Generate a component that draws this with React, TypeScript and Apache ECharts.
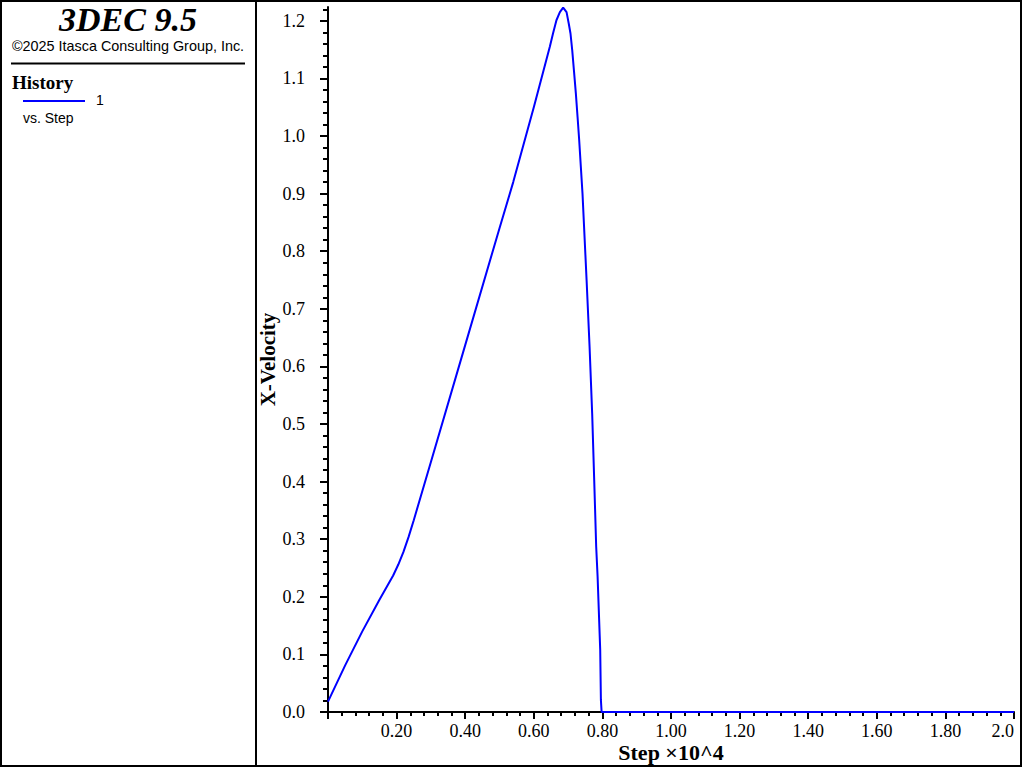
import React, { useEffect, useRef } from 'react';
import * as echarts from 'echarts';

// History 1: X-Velocity vs. Step (step in units of 10^4)
const stepX: number[] = [
  0, 0.05, 0.10, 0.15, 0.19, 0.205, 0.22, 0.235, 0.25, 0.30, 0.40, 0.50, 0.54, 0.60,
  0.6467, 0.656, 0.666, 0.676, 0.6856, 0.6955, 0.702, 0.707, 0.712, 0.717, 0.7226, 0.7276,
  0.7323, 0.7372, 0.742, 0.7539, 0.7626, 0.7702, 0.7761, 0.7819, 0.786, 0.7936, 0.7956, 0.7977, 2.0,
];
const velocity: number[] = [
  0.018, 0.081, 0.14, 0.195, 0.237, 0.256, 0.278, 0.304, 0.333, 0.434, 0.637, 0.84, 0.92, 1.05,
  1.155, 1.178, 1.201, 1.215, 1.223, 1.215, 1.195, 1.178, 1.149, 1.114, 1.074, 1.033,
  0.993, 0.946, 0.9, 0.75, 0.634, 0.518, 0.403, 0.287, 0.235, 0.108, 0.021, 0.0, 0.0,
];

const yMajorTicks: number[] = [0, 0.1, 0.2, 0.3, 0.4, 0.5, 0.6, 0.7, 0.8, 0.9, 1.0, 1.1, 1.2];
const yMinorStep = 0.02;
const yMinorTicks: number[] = Array.from({ length: 62 }, (_, i) => Math.round(i * yMinorStep * 1000) / 1000);

const Y_MAX = 1.224;
const SERIF = '"Liberation Serif", "Times New Roman", serif';
const SANS = '"Liberation Sans", Arial, sans-serif';

export default function App() {
  const ref = useRef<HTMLDivElement>(null);

  useEffect(() => {
    if (!ref.current) return;
    const chart = echarts.init(ref.current, undefined, { renderer: 'svg' });
    const data = stepX.map((x, i) => [x, velocity[i]]);

    chart.setOption({
      animation: false,
      backgroundColor: '#ffffff',
      grid: { left: 328, right: 10, top: 7, bottom: 56, containLabel: false, outerBoundsMode: 'none' },
      xAxis: {
        type: 'value',
        min: 0,
        max: 2,
        interval: 0.2,
        axisLine: { show: true, onZero: false, lineStyle: { color: '#000', width: 2 } },
        axisTick: { show: true, length: 7, lineStyle: { color: '#000', width: 2 } },
        minorTick: { show: true, splitNumber: 5, length: 4, lineStyle: { color: '#000', width: 2 } },
        splitLine: { show: false },
        minorSplitLine: { show: false },
        axisLabel: {
          margin: 10,
          color: '#000',
          fontFamily: SERIF,
          fontSize: 18,
          showMinLabel: true,
          showMaxLabel: true,
          hideOverlap: false,
          alignMaxLabel: 'right',
          formatter: (v: number) => (v === 0 ? '' : v >= 2 ? v.toFixed(1) : v.toFixed(2)),
        },
        name: 'Step \u00d710^4',
        nameLocation: 'middle',
        nameGap: 29,
        nameMoveOverlap: false,
        nameTextStyle: { color: '#000', fontFamily: SERIF, fontSize: 22, fontWeight: 'bold' },
      },
      yAxis: [
        {
          type: 'value',
          position: 'left',
          min: 0,
          max: Y_MAX,
          axisLine: { show: true, onZero: false, lineStyle: { color: '#000', width: 2 } },
          axisTick: { show: true, length: 8, customValues: yMajorTicks, lineStyle: { color: '#000', width: 2 } },
          splitLine: { show: false },
          axisLabel: {
            margin: 23,
            color: '#000',
            fontFamily: SERIF,
            fontSize: 18,
            customValues: yMajorTicks,
            formatter: (v: number) => v.toFixed(1),
          },
          name: 'X-Velocity',
          nameLocation: 'middle',
          nameRotate: 90,
          nameGap: 50,
          nameMoveOverlap: false,
          nameTextStyle: { color: '#000', fontFamily: SERIF, fontSize: 21, fontWeight: 'bold' },
        },
        {
          type: 'value',
          position: 'left',
          min: 0,
          max: Y_MAX,
          axisLine: { show: false },
          axisTick: { show: true, length: 5, customValues: yMinorTicks, lineStyle: { color: '#000', width: 2 } },
          axisLabel: { show: false },
          splitLine: { show: false },
        },
      ],
      series: [
        {
          type: 'line',
          data,
          yAxisIndex: 0,
          showSymbol: false,
          symbol: 'none',
          clip: false,
          lineStyle: { color: '#0000ff', width: 2 },
        },
      ],
      graphic: [
        { type: 'rect', z: 101, shape: { x: 1, y: 1, width: 1020, height: 765 }, style: { fill: 'none', stroke: '#000', lineWidth: 2 } },
        { type: 'line', z: 101, shape: { x1: 256, y1: 1, x2: 256, y2: 766 }, style: { stroke: '#000', lineWidth: 2 } },
        {
          type: 'text', z: 101, x: 128, y: 19,
          style: { text: '3DEC 9.5', fill: '#000', font: `bold italic 34px ${SERIF}`, align: 'center', verticalAlign: 'middle' },
        },
        {
          type: 'text', z: 101, x: 128, y: 46,
          style: { text: '\u00a92025 Itasca Consulting Group, Inc.', fill: '#000', font: `14.4px ${SANS}`, align: 'center', verticalAlign: 'middle' },
        },
        { type: 'line', z: 101, shape: { x1: 11, y1: 63.5, x2: 245, y2: 63.5 }, style: { stroke: '#000', lineWidth: 2 } },
        {
          type: 'text', z: 101, x: 12, y: 82,
          style: { text: 'History', fill: '#000', font: `bold 19px ${SERIF}`, align: 'left', verticalAlign: 'middle' },
        },
        { type: 'line', z: 101, shape: { x1: 23, y1: 101, x2: 85, y2: 101 }, style: { stroke: '#0000ff', lineWidth: 2 } },
        {
          type: 'text', z: 101, x: 96, y: 100,
          style: { text: '1', fill: '#000', font: `14px ${SANS}`, align: 'left', verticalAlign: 'middle' },
        },
        {
          type: 'text', z: 101, x: 23, y: 118,
          style: { text: 'vs. Step', fill: '#000', font: `14px ${SANS}`, align: 'left', verticalAlign: 'middle' },
        },
      ],
    });

    return () => chart.dispose();
  }, []);

  return <div ref={ref} style={{ position: 'absolute', left: 0, top: 0, width: 1024, height: 768 }} />;
}
